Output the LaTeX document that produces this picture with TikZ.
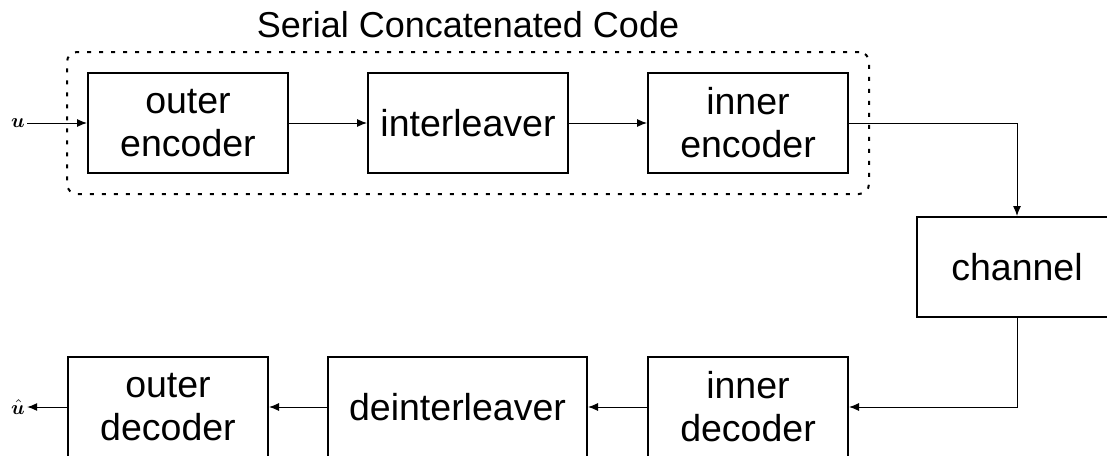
\documentclass[tikz,border=0pt]{standalone}
\usepackage{fontspec}
\setmainfont{Liberation Sans}
\usepackage{bm}
\usetikzlibrary{fit, arrows.meta}

\tikzset{
	block/.style={draw, line width=1pt, minimum width=100pt, minimum height=50pt, inner sep=0pt, align=center, font=\fontsize{18.75}{21.5}\selectfont},
	wire/.style={line width=0.5pt, -{Latex[length=5pt, width=4pt]}},
}

\begin{document}
\begin{tikzpicture}[x=0.5pt, y=-0.5pt]
	\useasboundingbox (0,0) rectangle (1107,455);
	\clip (0,0) rectangle (1107,455);

	%%% Блоки кодера
	\node[block] (oenc) at (188,123) {outer\\encoder};
	\node[block] (intl) at (468,123) {interleaver};
	\node[block] (ienc) at (748,123) {inner\\encoder};

	%%% Канал
	\node[block] (chan) at (1017,267) {channel};

	%%% Блоки декодера
	\node[block] (idec) at (748,407) {inner\\decoder};
	\node[block, minimum width=129.5pt] (deintl) at (457.5,407) {deinterleaver};
	\node[block] (odec) at (168,407) {outer\\decoder};

	%%% Вход и выход
	\node[inner sep=1pt] (u) at (18,123) {$\bm{u}$};
	\node[inner sep=1pt] (uhat) at (18,407) {$\hat{\bm{u}}$};

	%%% Рамка кода
	\node[draw, line width=1pt, dash pattern=on 2pt off 4pt, rounded corners=5pt, inner sep=10pt, fit=(oenc)(ienc)] (frame) {};
	\node[anchor=base, font=\fontsize{18}{21}\selectfont] (title) at ([yshift=7pt]frame.north) {Serial Concatenated Code};

	%%% Соединения
	\draw[wire] (u) -- (oenc);
	\draw[wire] (oenc) -- (intl);
	\draw[wire] (intl) -- (ienc);
	\draw[wire] (ienc.east) -| (chan.north);
	\draw[wire] (chan.south) |- (idec.east);
	\draw[wire] (idec) -- (deintl);
	\draw[wire] (deintl) -- (odec);
	\draw[wire] (odec) -- (uhat);
\end{tikzpicture}
\end{document}
